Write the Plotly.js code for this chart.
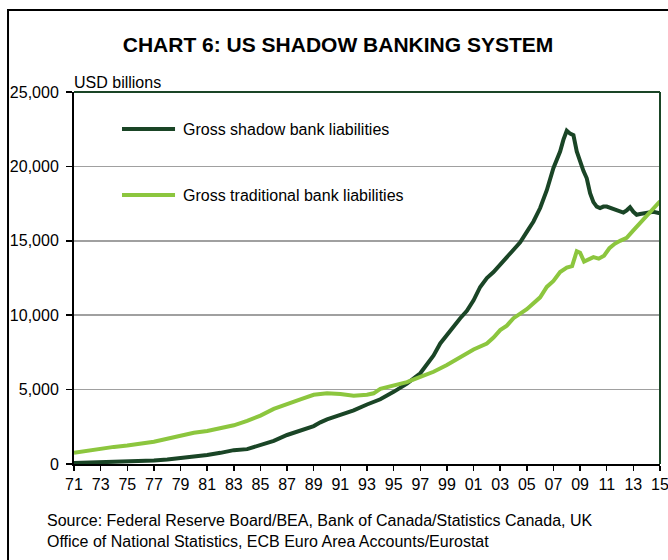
<!DOCTYPE html>
<html>
<head>
<meta charset="utf-8">
<script src="https://cdn.plot.ly/plotly-3.0.1.min.js"></script>
<style>html,body{margin:0;padding:0;background:#fff;}#chart{width:668px;height:560px;}</style>
</head>
<body>
<div id="chart"></div>
<script>
// Data (x = year, y = USD billions)
const shadowYears = [1971,1972,1973,1974,1975,1976,1977,1978,1979,1980,1981,1982,1983,1984,1985,1986,1987,1988,1989,1989.5,1990,1991,1992,1993,1994,1995,1996,1997,1998,1998.5,1999,2000,2000.5,2001,2001.5,2002,2002.5,2003,2003.5,2004,2004.5,2005,2005.5,2006,2006.5,2007,2007.5,2007.75,2008,2008.25,2008.5,2008.75,2009,2009.25,2009.5,2009.75,2010,2010.25,2010.5,2010.75,2011,2011.5,2012,2012.25,2012.5,2012.75,2013,2013.25,2013.5,2014,2014.5,2015];
const shadowValues = [60,80,110,140,160,200,240,300,380,480,600,750,930,1000,1250,1550,1950,2250,2550,2800,3000,3300,3600,4000,4350,4850,5400,6100,7300,8100,8700,9800,10300,11000,11900,12500,12900,13400,13800,14300,14900,15600,16300,17200,18400,19900,21000,21800,22400,22200,22100,21000,20300,19700,19200,18200,17600,17300,17200,17300,17300,17150,16950,16900,17050,17250,16950,16750,16800,16850,16950,16850];

const tradYears = [1971,1972,1973,1974,1975,1976,1977,1978,1979,1980,1981,1982,1983,1984,1985,1986,1987,1988,1989,1990,1991,1992,1993,1993.5,1994,1995,1996,1997,1998,1999,2000,2001,2002,2002.5,2003,2003.5,2004,2005,2006,2006.5,2007,2007.5,2008,2008.4,2008.75,2009,2009.3,2009.7,2010,2010.4,2010.8,2011.2,2011.6,2012,2012.5,2013,2013.5,2014,2014.5,2015];
const tradValues = [760,900,1000,1150,1250,1370,1500,1700,1920,2100,2220,2400,2600,2900,3250,3700,4050,4350,4650,4750,4700,4580,4650,4750,5050,5300,5500,5850,6200,6650,7200,7700,8100,8500,9000,9300,9800,10400,11200,11900,12300,12900,13200,13300,14300,14200,13600,13800,13900,13800,14000,14500,14800,15000,15200,15700,16200,16700,17200,17650];

const tickYears = [1971,1973,1975,1977,1979,1981,1983,1985,1987,1989,1991,1993,1995,1997,1999,2001,2003,2005,2007,2009,2011,2013,2015];
const tickLabels = ['71','73','75','77','79','81','83','85','87','89','91','93','95','97','99','01','03','05','07','09','11','13','15'];
const yTicks = [0,5000,10000,15000,20000,25000];

const seriesNames = ['Gross shadow bank liabilities','Gross traditional bank liabilities'];
const darkGreen = '#1a4526';
const lightGreen = '#8cc63e';
const FONT = 'Liberation Sans, Arial, sans-serif';

const traces = [
  {x: shadowYears, y: shadowValues, type:'scatter', mode:'lines', name: seriesNames[0],
   line:{color:darkGreen, width:4}, showlegend:false},
  {x: tradYears, y: tradValues, type:'scatter', mode:'lines', name: seriesNames[1],
   line:{color:lightGreen, width:4}, showlegend:false}
];

const layout = {
  width:668, height:560,
  margin:{l:74, r:8, t:92, b:96},
  paper_bgcolor:'#fff', plot_bgcolor:'#fff',
  font:{family:FONT, color:'#000', size:16},
  title:{text:'<b>CHART 6: US SHADOW BANKING SYSTEM</b>', font:{family:FONT, size:21, color:'#000'},
         x:0.506, xref:'container', xanchor:'center', y:0.92, yref:'container', yanchor:'middle'},
  xaxis:{range:[1971,2015], tickmode:'array', tickvals:tickYears, ticktext:tickLabels,
         showgrid:false, zeroline:false, showline:true, linecolor:'#000', linewidth:2,
         ticks:'outside', ticklen:5, tickwidth:1.5, tickcolor:'#000', ticklabeloverflow:'allow',
         tickfont:{family:FONT, size:16, color:'#000'}},
  yaxis:{range:[0,25000], tickmode:'array', tickvals:yTicks, tickformat:',d',
         showgrid:true, gridcolor:'#a0a0a0', gridwidth:1.5, zeroline:false,
         showline:true, linecolor:'#000', linewidth:2,
         ticks:'outside', ticklen:6, tickwidth:1.5, tickcolor:'#000', ticklabelstandoff:4,
         tickfont:{family:FONT, size:16, color:'#000'}},
  shapes:[
    {type:'line', xref:'paper', yref:'paper', x0:0, x1:1, y0:1, y1:1, line:{color:darkGreen, width:2}},
    {type:'line', xref:'paper', yref:'paper', x0:1, x1:1, y0:0, y1:1, line:{color:darkGreen, width:2}},
    {type:'rect', xref:'paper', yref:'paper', x0:-0.1126, x1:1.1, y0:-0.4, y1:1.2204, line:{color:'#000', width:2}},
    {type:'line', xref:'paper', yref:'paper', x0:0.0819, x1:0.1724, y0:0.9005, y1:0.9005, line:{color:darkGreen, width:4}},
    {type:'line', xref:'paper', yref:'paper', x0:0.0819, x1:0.1724, y0:0.7231, y1:0.7231, line:{color:lightGreen, width:4}}
  ],
  annotations:[
    {text:seriesNames[0], xref:'paper', yref:'paper', x:0.1826, y:0.9005, xanchor:'left', yanchor:'middle', showarrow:false, font:{family:FONT, size:16, color:'#000'}},
    {text:seriesNames[1], xref:'paper', yref:'paper', x:0.1826, y:0.7231, xanchor:'left', yanchor:'middle', showarrow:false, font:{family:FONT, size:16, color:'#000'}},
    {text:'USD billions', xref:'paper', yref:'paper', x:-0.003, y:1.0, xanchor:'left', yanchor:'bottom', yshift:-1, showarrow:false, font:{family:FONT, size:16, color:'#000'}},
    {text:'Source: Federal Reserve Board/BEA, Bank of Canada/Statistics Canada, UK<br>Office of National Statistics, ECB Euro Area Accounts/Eurostat',
     xref:'paper', yref:'paper', x:(45-74)/586, y:(464-531)/372, xanchor:'left', yanchor:'middle', align:'left', showarrow:false,
     font:{family:FONT, size:16, color:'#000'}}
  ]
};

Plotly.newPlot('chart', traces, layout, {displayModeBar:false, staticPlot:true});
</script>
</body>
</html>
